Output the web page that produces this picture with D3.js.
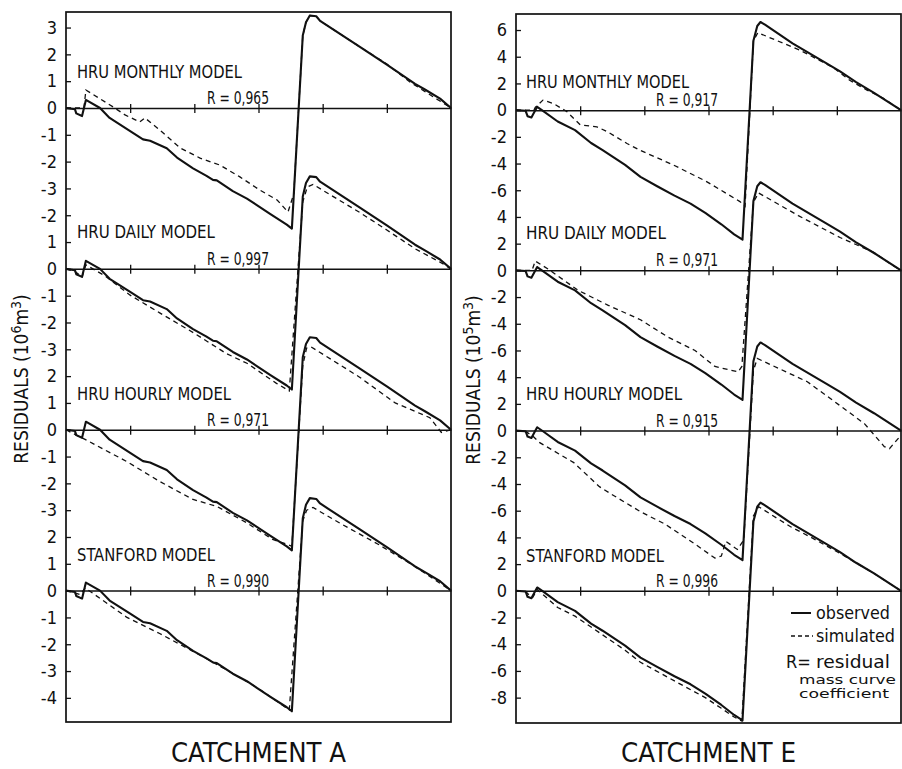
<!DOCTYPE html>
<html>
<head>
<meta charset="utf-8">
<script src="https://cdn.jsdelivr.net/npm/d3@7"></script>
<style>
  body { margin: 0; background: #fff; }
  svg text { font-family: "DejaVu Sans Condensed", "DejaVu Sans", sans-serif; fill: #111; }
</style>
</head>
<body>
<script>
// one band per model, same order in both catchments
const models = ['HRU MONTHLY MODEL', 'HRU DAILY MODEL', 'HRU HOURLY MODEL', 'STANFORD MODEL'];
const rValuesA = ['0,965', '0,997', '0,971', '0,990'];
const rValuesE = ['0,917', '0,971', '0,915', '0,996'];

// y tick labels, top to bottom (bands are stacked, each with its own zero)
const tickLabelsA = ['3', '2', '1', '0', '-1', '-2', '-3', '-2', '1', '0', '-1', '-2', '-3',
    '2', '1', '0', '-1', '-2', '-3', '2', '1', '0', '-1', '-2', '-3', '-4'];
const tickLabelsE = ['6', '4', '2', '0', '-2', '-4', '-6', '4', '2', '0', '-2', '-4', '-6',
    '4', '2', '0', '-2', '-4', '-6', '4', '2', '0', '-2', '-4', '-6', '-8'];
const timeTicks = [1, 2, 3, 4, 5];

// residual mass curves as [time, residual], time runs 0..6
// catchment A, 10^6 m3
const observedA = [
    [0, 0], [0.14, -0.05], [0.16, -0.2], [0.25, -0.3], [0.31, 0.3], [0.53, 0], [0.68, -0.37],
    [1.0, -0.86], [1.2, -1.17], [1.31, -1.22], [1.57, -1.5], [1.73, -1.85], [1.98, -2.25],
    [2.19, -2.53], [2.29, -2.68], [2.35, -2.7], [2.6, -3.1], [2.82, -3.38], [3.18, -3.95],
    [3.44, -4.35], [3.52, -4.5], [3.69, 2.7], [3.74, 3.2], [3.8, 3.45], [3.9, 3.42],
    [3.96, 3.25], [4.58, 2.28], [5.0, 1.62], [5.44, 0.9], [5.6, 0.68], [5.83, 0.35], [6, 0],
];
const monthlyA = [
    [0, 0], [0.28, 0], [0.31, 0.67], [0.76, 0], [0.92, -0.26], [1.15, -0.52], [1.23, -0.37],
    [1.46, -0.82], [1.78, -1.49], [2.09, -1.87], [2.4, -2.13], [2.71, -2.57], [3.02, -3.06],
    [3.29, -3.43], [3.46, -3.88], [3.55, -3.2], [3.69, 2.7], [3.74, 3.2], [3.8, 3.45],
    [3.9, 3.42], [3.96, 3.25], [4.58, 2.28], [5.0, 1.64], [5.36, 0.97], [5.72, 0.42], [6, 0],
];
const dailyA = [
    [0, 0], [0.14, -0.1], [0.25, -0.3], [0.31, 0.15], [0.6, -0.25], [1.0, -0.98], [1.46, -1.64],
    [2.0, -2.4], [2.5, -3.16], [2.82, -3.52], [3.28, -4.27], [3.48, -4.55], [3.69, 2.5],
    [3.76, 3.05], [3.85, 3.15], [4.58, 2.1], [5.0, 1.45], [5.44, 0.75], [5.83, 0.25], [6, 0],
];
const hourlyA = [
    [0, 0], [0.16, -0.2], [0.25, -0.3], [0.95, -1.19], [1.46, -1.93], [1.98, -2.6],
    [2.35, -2.86], [2.81, -3.46], [3.22, -4.09], [3.44, -4.27], [3.52, -4.35], [3.69, 2.4],
    [3.75, 3.05], [3.82, 3.09], [4.57, 1.97], [5.13, 1.0], [5.67, 0.45], [5.85, -0.1], [6, 0],
];
const stanfordA = [
    [0, 0], [0.16, -0.1], [0.22, -0.15], [0.3, 0.1], [0.95, -1.0], [1.46, -1.6], [2.24, -2.6],
    [2.75, -3.3], [3.0, -3.65], [3.48, -4.45], [3.69, 2.6], [3.75, 3.0], [3.85, 3.1],
    [4.28, 2.5], [4.85, 1.75], [5.44, 0.9], [6, 0],
];

// catchment E, 10^5 m3
const observedE = [
    [0, 0], [0.15, -0.05], [0.18, -0.45], [0.24, -0.55], [0.33, 0.25], [0.42, -0.05],
    [0.65, -0.85], [0.92, -1.5], [1.17, -2.46], [1.35, -2.99], [1.7, -4.1], [1.94, -5.0],
    [2.2, -5.7], [2.47, -6.4], [2.72, -7.0], [2.95, -7.7], [3.2, -8.55], [3.4, -9.3],
    [3.53, -9.7], [3.7, 5.2], [3.76, 6.3], [3.81, 6.6], [3.88, 6.4], [4.31, 5.0], [4.84, 3.5],
    [5.05, 2.9], [5.3, 2.1], [5.58, 1.3], [6, 0],
];
const monthlyE = [
    [0, 0], [0.28, 0], [0.3, 0.2], [0.42, 0.75], [0.58, 0.5], [0.79, -0.1], [1.0, -1.1],
    [1.26, -1.25], [1.42, -1.6], [1.73, -2.5], [1.93, -3.0], [2.45, -4.1], [2.97, -5.35],
    [3.49, -6.85], [3.57, -7.2], [3.7, 5.2], [3.77, 5.8], [4.42, 4.5], [4.94, 3.2],
    [5.2, 2.24], [5.47, 1.5], [5.72, 0.9], [6, 0],
];
const dailyE = [
    [0, 0], [0.25, 0], [0.3, 0.7], [0.5, 0.1], [0.97, -1.5], [1.43, -2.6], [1.94, -3.7],
    [2.37, -5.0], [2.79, -6.0], [3.1, -7.2], [3.46, -7.6], [3.52, -7.2], [3.7, 5.1],
    [3.78, 5.8], [4.4, 4.1], [5.05, 2.46], [5.58, 1.34], [5.83, 0.5], [6, 0],
];
const hourlyE = [
    [0, 0], [0.16, -0.1], [0.26, -0.4], [0.37, -0.9], [0.9, -2.4], [1.3, -4.2], [1.5, -4.8],
    [1.95, -6.1], [2.32, -7.0], [2.79, -8.5], [3.1, -9.55], [3.2, -9.4], [3.27, -8.3],
    [3.45, -8.9], [3.55, -8.2], [3.7, 4.5], [3.76, 5.4], [4.54, 3.66], [5.05, 1.87],
    [5.43, 0.52], [5.74, -1.2], [5.82, -1.35], [6, -0.35],
];
const stanfordE = [
    [0, 0], [0.16, -0.1], [0.22, -0.4], [0.26, -0.5], [0.33, 0.1], [0.65, -1.25],
    [0.92, -1.9], [1.35, -3.3], [1.7, -4.45], [1.94, -5.35], [2.47, -6.75], [2.95, -8.0],
    [3.2, -8.8], [3.4, -9.45], [3.52, -9.75], [3.7, 5.6], [3.78, 6.3], [4.28, 4.8],
    [4.6, 4.0], [5.05, 2.8], [5.58, 1.3], [6, 0],
];

const ink = '#111';
const svg = d3.select('body').append('svg').attr('width', 902).attr('height', 769);

function drawPanel(p) {
    const x = d3.scaleLinear().domain([0, 6]).range([p.x0, p.x1]);
    const y = d3.scaleLinear().domain(p.yDomain).range([p.y0, p.y1]);
    const g = svg.append('g');

    // y axis, ticks pointing inwards
    const yTicks = d3.range(p.tickTop, p.tickTop - p.tickStep * p.tickLabels.length, -p.tickStep);
    const yAxis = g.append('g')
        .attr('transform', `translate(${p.x0},0)`)
        .call(d3.axisLeft(y).tickValues(yTicks)
            .tickFormat((d, i) => p.tickLabels[i]).tickSize(-5).tickPadding(9));
    yAxis.select('.domain').remove();
    yAxis.selectAll('.tick line').attr('stroke', ink).attr('stroke-width', 1.3);
    yAxis.selectAll('.tick text').attr('font-size', 18).attr('font-family', null);

    // frame
    g.append('rect')
        .attr('x', p.x0).attr('y', p.y0)
        .attr('width', p.x1 - p.x0).attr('height', p.y1 - p.y0)
        .attr('fill', 'none').attr('stroke', ink).attr('stroke-width', 1.7);

    const line = (offset) => d3.line().x((d) => x(d[0])).y((d) => y(d[1] + offset));

    p.simulated.forEach((sim, k) => {
        const offset = -k * p.bandStep;
        const zeroY = y(offset);

        // zero line with time ticks crossing it
        const xAxis = g.append('g')
            .attr('transform', `translate(0,${zeroY})`)
            .call(d3.axisBottom(x).tickValues(timeTicks).tickFormat('').tickSize(5).tickSizeOuter(0));
        xAxis.select('.domain').attr('stroke', ink).attr('stroke-width', 1.5);
        xAxis.selectAll('.tick line').attr('y1', -4).attr('stroke', ink).attr('stroke-width', 1.3);

        g.append('path')
            .attr('d', line(offset)(sim))
            .attr('fill', 'none').attr('stroke', ink)
            .attr('stroke-width', 1.3).attr('stroke-dasharray', '5,4');
        g.append('path')
            .attr('d', line(offset)(p.observed))
            .attr('fill', 'none').attr('stroke', ink)
            .attr('stroke-width', 2.1).attr('stroke-linejoin', 'round');

        g.append('text')
            .attr('x', p.x0 + p.labelDx).attr('y', zeroY - p.labelDy[k])
            .attr('font-size', 18)
            .attr('textLength', p.labelLen[k]).attr('lengthAdjust', 'spacingAndGlyphs')
            .text(models[k]);
        g.append('text')
            .attr('x', p.rX).attr('y', zeroY - 4)
            .attr('font-size', 18)
            .attr('textLength', 62).attr('lengthAdjust', 'spacingAndGlyphs')
            .text('R = ' + p.rValues[k]);
    });

    // axis title
    const title = g.append('text')
        .attr('transform', `translate(${p.titleX},${p.titleY}) rotate(-90)`)
        .attr('text-anchor', 'middle')
        .attr('font-size', 19);
    title.append('tspan').text('RESIDUALS (10');
    title.append('tspan').attr('dy', -7).attr('font-size', 14).text(p.power);
    title.append('tspan').attr('dy', 7).text('m');
    title.append('tspan').attr('dy', -7).attr('font-size', 14).text('3');
    title.append('tspan').attr('dy', 7).text(')');

    svg.append('text')
        .attr('x', (p.x0 + p.x1) / 2).attr('y', 762)
        .attr('text-anchor', 'middle')
        .attr('font-size', 26)
        .attr('textLength', 175).attr('lengthAdjust', 'spacingAndGlyphs')
        .text(p.caption);

    return { x, y, g };
}

drawPanel({
    x0: 66, x1: 451, y0: 12, y1: 722,
    yDomain: [3.58, -22.9], bandStep: 6,
    tickTop: 3, tickStep: 1, tickLabels: tickLabelsA,
    observed: observedA, simulated: [monthlyA, dailyA, hourlyA, stanfordA],
    rValues: rValuesA, rX: 207,
    labelDx: 11, labelDy: [30, 31, 30, 30], labelLen: [165, 138, 154, 138],
    titleX: 28, titleY: 379, power: '6',
    caption: 'CATCHMENT A',
});

const panelE = drawPanel({
    x0: 516, x1: 901, y0: 14, y1: 723,
    yDomain: [7.2, -45.9], bandStep: 12,
    tickTop: 6, tickStep: 2, tickLabels: tickLabelsE,
    observed: observedE, simulated: [monthlyE, dailyE, hourlyE, stanfordE],
    rValues: rValuesE, rX: 656,
    labelDx: 10, labelDy: [22, 31, 31, 29], labelLen: [163, 140, 156, 138],
    titleX: 480, titleY: 380, power: '5',
    caption: 'CATCHMENT E',
});

// legend, lower right of catchment E
const lg = panelE.g.append('g').attr('transform', 'translate(786,613)');
lg.append('line').attr('x1', 5).attr('x2', 25).attr('y1', 0).attr('y2', 0)
    .attr('stroke', ink).attr('stroke-width', 2);
lg.append('text').attr('x', 30).attr('y', 6).attr('font-size', 18)
    .attr('textLength', 74).attr('lengthAdjust', 'spacingAndGlyphs').text('observed');
lg.append('line').attr('x1', 5).attr('x2', 27).attr('y1', 23).attr('y2', 23)
    .attr('stroke', ink).attr('stroke-width', 1.3).attr('stroke-dasharray', '4,3');
lg.append('text').attr('x', 30).attr('y', 29).attr('font-size', 18)
    .attr('textLength', 79).attr('lengthAdjust', 'spacingAndGlyphs').text('simulated');
lg.append('text').attr('x', 0).attr('y', 55).attr('font-size', 18).text('R=');
lg.append('text').attr('x', 30).attr('y', 55).attr('font-size', 18)
    .attr('textLength', 74).attr('lengthAdjust', 'spacingAndGlyphs').text('residual');
lg.append('text').attr('x', 13).attr('y', 71).attr('font-size', 12)
    .attr('textLength', 97).attr('lengthAdjust', 'spacingAndGlyphs').text('mass curve');
lg.append('text').attr('x', 13).attr('y', 85).attr('font-size', 12)
    .attr('textLength', 90).attr('lengthAdjust', 'spacingAndGlyphs').text('coefficient');
</script>
</body>
</html>
